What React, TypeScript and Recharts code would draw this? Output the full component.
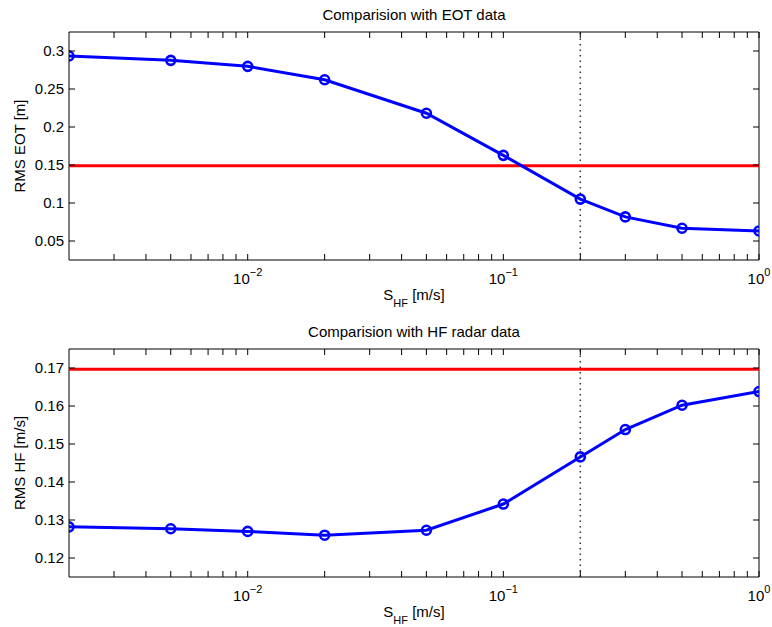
import React from 'react';
import { LineChart, Line, XAxis, YAxis, ReferenceLine, ReferenceArea } from 'recharts';

// S_HF values (log axis) and the two RMS series
const sHF = [0.002, 0.005, 0.01, 0.02, 0.05, 0.1, 0.2, 0.3, 0.5, 1];
const rmsEot = [0.2934, 0.2877, 0.2798, 0.2622, 0.2181, 0.1627, 0.1051, 0.0817, 0.0668, 0.0632];
const rmsHf = [0.1282, 0.1277, 0.127, 0.126, 0.1273, 0.1342, 0.1466, 0.1538, 0.1602, 0.1638];

// horizontal red reference levels and the chosen S_HF (dotted line)
const eotReference = 0.149;
const hfReference = 0.1697;
const chosenS = 0.2;

const xMajorTicks = [0.01, 0.1, 1];
const xMinorTicks = [
  0.003, 0.004, 0.005, 0.006, 0.007, 0.008, 0.009,
  0.02, 0.03, 0.04, 0.05, 0.06, 0.07, 0.08, 0.09,
  0.2, 0.3, 0.4, 0.5, 0.6, 0.7, 0.8, 0.9,
];
const xMajorLabels = ['\u22122', '\u22121', '0'];

const eotTicks = [0.05, 0.1, 0.15, 0.2, 0.25, 0.3];
const eotTickLabels = ['0.05', '0.1', '0.15', '0.2', '0.25', '0.3'];
const hfTicks = [0.12, 0.13, 0.14, 0.15, 0.16, 0.17];
const hfTickLabels = ['0.12', '0.13', '0.14', '0.15', '0.16', '0.17'];

const xDomain: [number, number] = [0.002, 1];
const eotDomain: [number, number] = [0.025, 0.325];
const hfDomain: [number, number] = [0.115, 0.175];

const eotData = sHF.map((s, i) => ({ s, v: rmsEot[i] }));
const hfData = sHF.map((s, i) => ({ s, v: rmsHf[i] }));

const FONT = '"Liberation Sans", Arial, Helvetica, sans-serif';
const PLOT_W = 690;
const PLOT_H = 228;
const TICK = 6;

function XTick(props: any) {
  const { x, y, payload } = props;
  const idx = xMajorTicks.indexOf(payload.value);
  return (
    <g>
      <line x1={x} y1={y} x2={x} y2={y - TICK} stroke="#000" strokeWidth={1} />
      <line x1={x} y1={y - PLOT_H} x2={x} y2={y - PLOT_H + TICK} stroke="#000" strokeWidth={1} />
      {idx >= 0 && (
        <text x={x} y={y + 24} textAnchor="middle" fontFamily={FONT} fontSize={15} fill="#000">
          10
          <tspan fontSize={11} dy={-8}>{xMajorLabels[idx]}</tspan>
        </text>
      )}
    </g>
  );
}

function makeYTick(values: number[], labels: string[]) {
  return function YTick(props: any) {
    const { x, y, payload } = props;
    const idx = values.indexOf(payload.value);
    return (
      <g>
        <line x1={x} y1={y} x2={x + TICK} y2={y} stroke="#000" strokeWidth={1} />
        <line x1={x + PLOT_W} y1={y} x2={x + PLOT_W - TICK} y2={y} stroke="#000" strokeWidth={1} />
        <text x={x - 5} y={y + 5} textAnchor="end" fontFamily={FONT} fontSize={15} fill="#000">
          {idx >= 0 ? labels[idx] : ''}
        </text>
      </g>
    );
  };
}

function YTitle(text: string) {
  return function Title(props: any) {
    const vb = props.viewBox || {};
    const cx = 19;
    const cy = (vb.y ?? 32) + (vb.height ?? PLOT_H) / 2;
    return (
      <text
        x={cx}
        y={cy}
        transform={`rotate(-90 ${cx} ${cy})`}
        textAnchor="middle"
        dominantBaseline="central"
        fontFamily={FONT}
        fontSize={15}
        fill="#000"
      >
        {text}
      </text>
    );
  };
}

function XTitle(props: any) {
  const vb = props.viewBox || {};
  const cx = (vb.x ?? 69) + (vb.width ?? PLOT_W) / 2;
  const y = (vb.y ?? 260) + 40;
  return (
    <text x={cx} y={y} textAnchor="middle" fontFamily={FONT} fontSize={15} fill="#000">
      S
      <tspan fontSize={11} dy={7}>HF</tspan>
      <tspan dy={-7}> [m/s]</tspan>
    </text>
  );
}

interface PanelProps {
  title: string;
  yTitle: string;
  data: { s: number; v: number }[];
  yDomain: [number, number];
  yTicks: number[];
  yTickLabels: string[];
  reference: number;
  height: number;
}

function Panel({ title, yTitle, data, yDomain, yTicks, yTickLabels, reference, height }: PanelProps) {
  const YTick = makeYTick(yTicks, yTickLabels);
  return (
    <div style={{ position: 'relative', width: 772, height }}>
      <div
        style={{
          position: 'absolute',
          left: 69,
          width: PLOT_W,
          top: 6,
          textAlign: 'center',
          fontFamily: FONT,
          fontSize: 15,
          lineHeight: '18px',
          color: '#000',
        }}
      >
        {title}
      </div>
      <LineChart
        width={772}
        height={height}
        data={data}
        margin={{ top: 32, right: 13, left: 0, bottom: 0 }}
      >
        <XAxis
          dataKey="s"
          type="number"
          scale="log"
          domain={xDomain}
          ticks={[...xMinorTicks, ...xMajorTicks]}
          interval={0}
          allowDataOverflow
          height={height - 32 - PLOT_H}
          tickSize={0}
          tickMargin={0}
          tickLine={false}
          axisLine={false}
          tick={XTick}
          label={{ content: XTitle }}
        />
        <YAxis
          type="number"
          domain={yDomain}
          ticks={yTicks}
          interval={0}
          allowDataOverflow
          width={69}
          tickSize={0}
          tickMargin={0}
          tickLine={false}
          axisLine={false}
          tick={YTick}
          label={{ content: YTitle(yTitle) }}
        />
        <ReferenceArea
          x1={xDomain[0]}
          x2={xDomain[1]}
          y1={yDomain[0]}
          y2={yDomain[1]}
          fill="none"
          fillOpacity={0}
          stroke="#000"
          strokeWidth={1}
        />
        <ReferenceLine x={chosenS} stroke="#333" strokeWidth={1.5} strokeDasharray="1.5 4" />
        <ReferenceLine y={reference} stroke="#ff0000" strokeWidth={3} />
        <Line
          type="linear"
          dataKey="v"
          stroke="#0000ff"
          strokeWidth={3}
          dot={{ r: 4.5, stroke: '#0000ff', strokeWidth: 2.6, fill: 'none' }}
          isAnimationActive={false}
        />
      </LineChart>
    </div>
  );
}

export default function App() {
  return (
    <div style={{ position: 'absolute', left: 0, top: 0, width: 772, height: 627, background: '#fff' }}>
      <Panel
        title="Comparision with EOT data"
        yTitle="RMS EOT [m]"
        data={eotData}
        yDomain={eotDomain}
        yTicks={eotTicks}
        yTickLabels={eotTickLabels}
        reference={eotReference}
        height={317}
      />
      <Panel
        title="Comparision with HF radar data"
        yTitle="RMS HF [m/s]"
        data={hfData}
        yDomain={hfDomain}
        yTicks={hfTicks}
        yTickLabels={hfTickLabels}
        reference={hfReference}
        height={310}
      />
    </div>
  );
}
